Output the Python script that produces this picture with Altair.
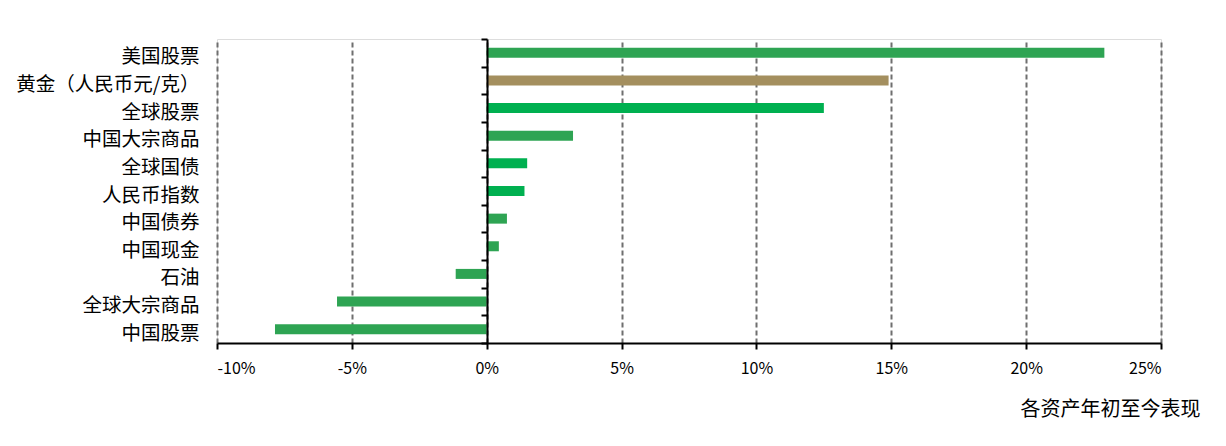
import altair as alt
import pandas as pd

categories = ["美国股票", "黄金（人民币元/克）", "全球股票", "中国大宗商品", "全球国债",
              "人民币指数", "中国债券", "中国现金", "石油", "全球大宗商品", "中国股票"]
values = [22.9, 14.9, 12.5, 3.2, 1.5, 1.4, 0.75, 0.45, -1.15, -5.55, -7.85]
colors = ["#2EA453", "#A48F5F", "#00B050", "#2EA453", "#00B050",
          "#00B050", "#2EA453", "#2EA453", "#2EA453", "#2EA453", "#2EA453"]
x_ticks = [-10, -5, 0, 5, 10, 15, 20, 25]

df = pd.DataFrame({"asset": categories, "value": [v / 100 for v in values], "color": colors})

FONT = "Noto Sans CJK SC"

bars = alt.Chart(df).mark_bar(size=10).encode(
    x=alt.X("value:Q",
            scale=alt.Scale(domain=[-0.10, 0.25], nice=False, zero=False),
            axis=alt.Axis(values=[t / 100 for t in x_ticks],
                          labelExpr="round(datum.value * 100) + '%'",
                          title="各资产年初至今表现", titleFont=FONT, titleFontSize=20,
                          titleFontWeight="normal", titleColor="#000000",
                          titleAnchor="end", titleAlign="right", titleBaseline="middle",
                          titleX=983, titleY=66, titleAngle=0,
                          labelFont=FONT, labelFontSize=16, labelColor="#000000",
                          labelPadding=11, tickSize=6, tickWidth=2, tickColor="#000000",
                          domainColor="#000000", domainWidth=2,
                          grid=True, gridColor="#6F6F6F", gridWidth=2, gridDash=[5, 3],
                          zindex=0)),
    y=alt.Y("asset:N", sort=categories,
            scale=alt.Scale(paddingInner=0, paddingOuter=0),
            axis=alt.Axis(title=None, offset=-270, tickBand="extent",
                          domainColor="#000000", domainWidth=2,
                          tickColor="#000000", tickWidth=2, tickSize=6,
                          labelFont=FONT, labelFontSize=19.5, labelColor="#000000",
                          labelPadding=282, labelAlign="right", labelOffset=4,
                          labelLimit=400, grid=False, zindex=1)),
    color=alt.Color("color:N", scale=None, legend=None),
)

chart = bars.properties(
    width=944, height=304,
    autosize=alt.AutoSizeParams(type="none"),
    padding={"left": 209, "top": 31, "right": 57, "bottom": 90},
).configure_view(stroke=None).configure(background="#ffffff")

chart.save("out.html", embed_options={"renderer": "svg", "actions": False})
